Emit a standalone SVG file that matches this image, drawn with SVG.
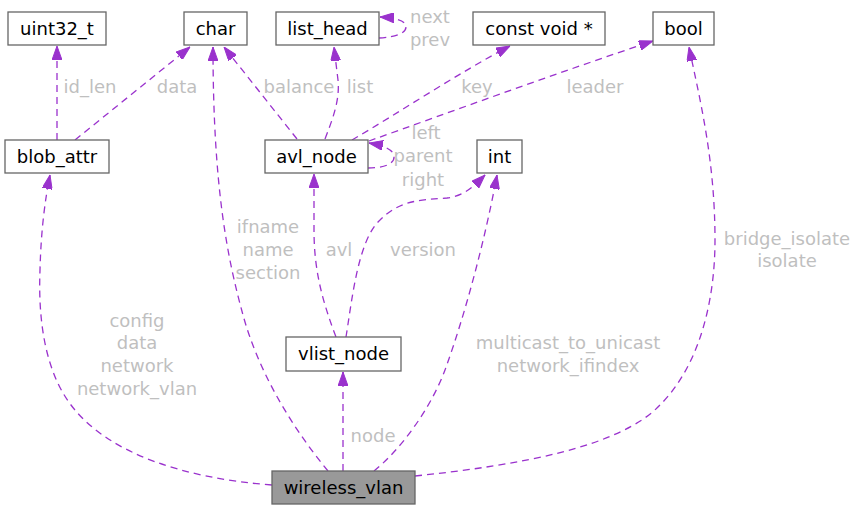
<svg xmlns="http://www.w3.org/2000/svg" width="857" height="510" viewBox="0 0 857 510">
<style>
.box{fill:#ffffff;stroke:#666666;stroke-width:1.3}
.main{fill:#999999;stroke:#666666;stroke-width:1.3}
.nt{font-family:"DejaVu Sans",sans-serif;font-size:18px;fill:#000000;text-anchor:middle}
.lbl{font-family:"DejaVu Sans",sans-serif;font-size:18px;fill:#bfbfbf;text-anchor:middle}
.e{fill:none;stroke:#9a32cd;stroke-width:1.3;stroke-dasharray:7,5;marker-end:url(#ah)}
</style>
<defs>
<marker id="ah" viewBox="0 0 14 10" refX="14" refY="5" markerWidth="14" markerHeight="10" markerUnits="userSpaceOnUse" orient="auto">
<path d="M0,0 L14,5 L0,10 z" fill="#9a32cd" stroke="#9a32cd" stroke-width="1"/>
</marker>
</defs>
<rect width="857" height="510" fill="#ffffff"/>
<g id="edges">
<path class="e" d="M57,140 L57,46"/>
<path class="e" d="M75,140 L190,47"/>
<path class="e" d="M297,139 L224,47"/>
<path class="e" d="M325,139 C333,118 340,100 338,80 L334,47"/>
<path class="e" d="M379,38 C396,37 406,33 406,27 C406,21 398,18 380,17"/>
<path class="e" d="M352,140 C400,112 460,72 510,46"/>
<path class="e" d="M369,141 C450,112 560,72 653,41"/>
<path class="e" d="M368,168 C388,168 395,162 394,156 C393,150 386,146 369,143"/>
<path class="e" d="M336,337 C322,300 314,270 314,230 L314,174"/>
<path class="e" d="M346,337 C352,300 358,240 380,220 C400,200 420,200 447,198 C465,196 475,185 485,175"/>
<path class="e" d="M343,471 L343,372"/>
<path class="e" d="M272,485 C180,478 110,452 75,410 C45,375 38,320 40,270 C41,230 45,200 50,175"/>
<path class="e" d="M328,471 C290,425 258,370 243,315 C228,260 213,190 213,47"/>
<path class="e" d="M374,471 C400,450 430,410 445,370 C465,315 485,240 497,175"/>
<path class="e" d="M415,476 C520,465 620,447 660,405 C700,365 715,300 715,240 C715,160 700,100 689,47"/>
</g>
<g id="labels">
<text class="lbl" x="90" y="93">id_len</text>
<text class="lbl" x="177" y="93">data</text>
<text class="lbl" x="299" y="93">balance</text>
<text class="lbl" x="360" y="93">list</text>
<text class="lbl" x="477" y="93">key</text>
<text class="lbl" x="595" y="93">leader</text>
<text class="lbl" x="430" y="23">next</text>
<text class="lbl" x="430" y="46">prev</text>
<text class="lbl" x="426" y="139">left</text>
<text class="lbl" x="423" y="162">parent</text>
<text class="lbl" x="423" y="186">right</text>
<text class="lbl" x="268" y="233">ifname</text>
<text class="lbl" x="268" y="256">name</text>
<text class="lbl" x="268" y="279">section</text>
<text class="lbl" x="339" y="256">avl</text>
<text class="lbl" x="423" y="256">version</text>
<text class="lbl" x="373" y="442">node</text>
<text class="lbl" x="137" y="327">config</text>
<text class="lbl" x="137" y="349">data</text>
<text class="lbl" x="137" y="372">network</text>
<text class="lbl" x="137" y="395">network_vlan</text>
<text class="lbl" x="568" y="349">multicast_to_unicast</text>
<text class="lbl" x="568" y="372">network_ifindex</text>
<text class="lbl" x="787" y="245">bridge_isolate</text>
<text class="lbl" x="787" y="267">isolate</text>
</g>
<g id="node_uint32_t"><rect class="box" x="8" y="12" width="98" height="33"/><text class="nt" x="57" y="35">uint32_t</text></g>
<g id="node_char"><rect class="box" x="184" y="12" width="63" height="33"/><text class="nt" x="215.5" y="35">char</text></g>
<g id="node_list_head"><rect class="box" x="276" y="12" width="103" height="33"/><text class="nt" x="327.5" y="35">list_head</text></g>
<g id="node_const_void"><rect class="box" x="473" y="12" width="132" height="33"/><text class="nt" x="539" y="35">const void *</text></g>
<g id="node_bool"><rect class="box" x="653" y="12" width="61" height="33"/><text class="nt" x="683.5" y="35">bool</text></g>
<g id="node_blob_attr"><rect class="box" x="5" y="140" width="104" height="33"/><text class="nt" x="57" y="163">blob_attr</text></g>
<g id="node_avl_node"><rect class="box" x="265" y="140" width="103" height="33"/><text class="nt" x="316.5" y="163">avl_node</text></g>
<g id="node_int"><rect class="box" x="477" y="140" width="45" height="33"/><text class="nt" x="499.5" y="163">int</text></g>
<g id="node_vlist_node"><rect class="box" x="286" y="337" width="115" height="34"/><text class="nt" x="343.5" y="360">vlist_node</text></g>
<g id="node_wireless_vlan"><rect class="main" x="272" y="471" width="143" height="33"/><text class="nt" x="343.5" y="494">wireless_vlan</text></g>
</svg>
